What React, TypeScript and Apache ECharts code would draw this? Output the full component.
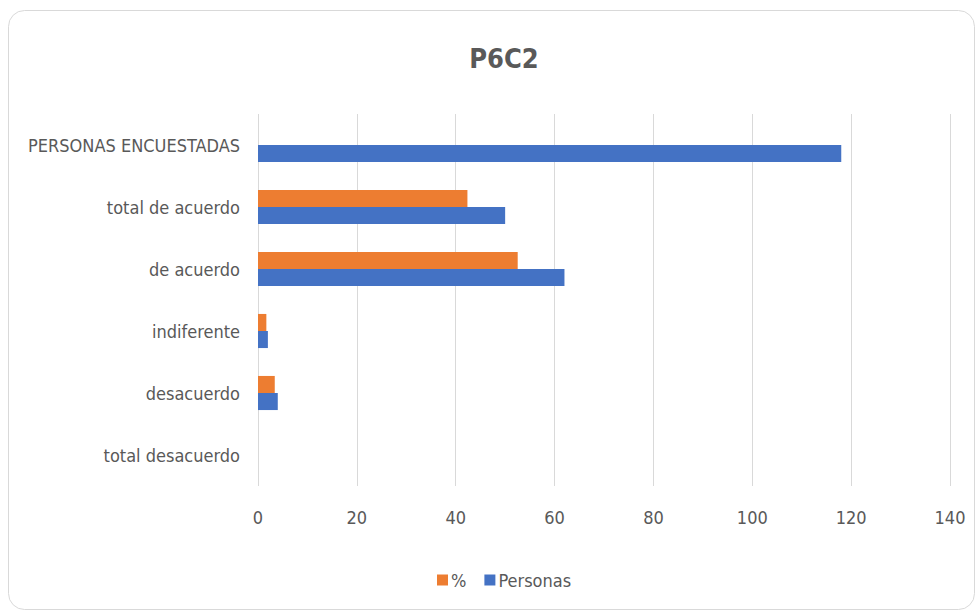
import React, { useEffect, useRef } from "react";
import * as echarts from "echarts";

const categories = [
  "PERSONAS ENCUESTADAS",
  "total de acuerdo",
  "de acuerdo",
  "indiferente",
  "desacuerdo",
  "total desacuerdo",
];
const porcentaje = [null, 42.37, 52.54, 1.69, 3.39, 0];
const personas = [118, 50, 62, 2, 4, 0];
const xTicks = { min: 0, max: 140, interval: 20 };

const FONT = "'Liberation Sans Narrow', 'DejaVu Sans Condensed', sans-serif";
const TEXT = "#595959";

export default function App() {
  const ref = useRef<HTMLDivElement>(null);
  useEffect(() => {
    if (!ref.current) return;
    const chart = echarts.init(ref.current, null, { renderer: "svg" });
    chart.setOption({
      animation: false,
      backgroundColor: "#ffffff",
      graphic: [
        {
          type: "rect",
          z: -10,
          shape: { x: 8.5, y: 10.5, width: 966, height: 599, r: 16 },
          style: { fill: "#ffffff", stroke: "#d9d9d9", lineWidth: 1 },
          silent: true,
        },
      ],
      title: {
        text: "P6C2",
        left: 499,
        top: 40,
        textAlign: "center",
        textStyle: { fontFamily: FONT, fontSize: 27, fontWeight: "bold", color: TEXT },
      },
      legend: {
        data: ["%", "Personas"],
        left: 432,
        top: 566,
        itemWidth: 11,
        itemHeight: 11,
        itemGap: 18,
        icon: "rect",
        textStyle: { fontFamily: FONT, fontSize: 18, color: TEXT, padding: [0, 0, 0, -2] },
      },
      grid: { left: 258, right: 29, top: 114, bottom: 127, containLabel: false },
      xAxis: {
        type: "value",
        min: xTicks.min,
        max: xTicks.max,
        interval: xTicks.interval,
        axisLine: { show: false },
        axisTick: { show: false },
        splitLine: { lineStyle: { color: "#d9d9d9", width: 1 } },
        axisLabel: { fontFamily: FONT, fontSize: 18, color: TEXT, margin: 22 },
      },
      yAxis: {
        type: "category",
        data: categories,
        inverse: true,
        axisLine: { show: false },
        axisTick: { show: false },
        axisLabel: { fontFamily: FONT, fontSize: 18, color: TEXT, margin: 18 },
      },
      series: [
        {
          name: "%",
          type: "bar",
          data: porcentaje,
          itemStyle: { color: "#ED7D31" },
          barGap: "0%",
          barCategoryGap: "45%",
        },
        {
          name: "Personas",
          type: "bar",
          data: personas,
          itemStyle: { color: "#4472C4" },
          barGap: "0%",
          barCategoryGap: "45%",
        },
      ],
    });
    return () => chart.dispose();
  }, []);
  return (
    <div
      ref={ref}
      style={{ position: "fixed", left: 0, top: 0, width: 979, height: 613 }}
    />
  );
}
